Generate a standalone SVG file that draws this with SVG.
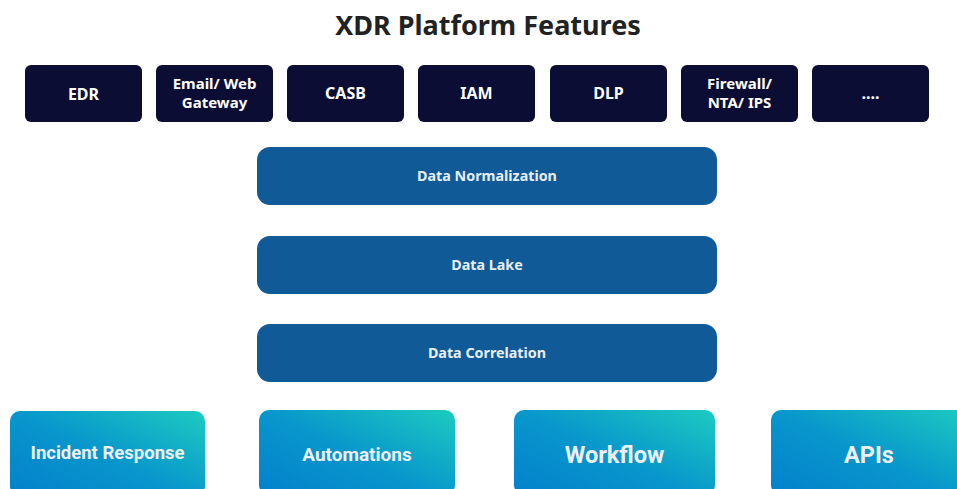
<svg xmlns="http://www.w3.org/2000/svg" width="957" height="489" viewBox="0 0 957 489">
<defs>
<linearGradient id="g" x1="0" y1="0.9" x2="1" y2="0">
<stop offset="0" stop-color="#0483cc"/>
<stop offset="0.45" stop-color="#0896cc"/>
<stop offset="1" stop-color="#1ccbc0"/>
</linearGradient>
<style>
.top rect{fill:#0c0d34}
.top text{fill:#fff;font-family:"Noto Sans",sans-serif;font-weight:700;font-size:16px;text-anchor:middle}
.top .two{font-size:15px}
.mid rect{fill:#105a97}
.mid text{fill:#e9eef5;font-family:"Noto Sans",sans-serif;font-weight:700;font-size:14.3px;text-anchor:middle}
.bot rect{fill:url(#g)}
.bot text{fill:#eef0f5;font-family:Roboto,sans-serif;font-weight:700;text-anchor:middle}
.title{fill:#222;font-family:"Noto Sans",sans-serif;font-weight:700;font-size:27px;text-anchor:middle}
</style>
</defs>
<rect width="957" height="489" fill="#fff"/>
<text class="title" x="488" y="35">XDR Platform Features</text>
<g class="top">
<g id="edr"><rect x="25" y="65" width="117" height="57" rx="6"/><text x="83.5" y="100" font-size="18">EDR</text></g>
<g id="email"><rect x="156" y="65" width="117" height="57" rx="6"/><text class="two" x="214.5" y="89">Email/ Web</text><text class="two" x="214.5" y="108">Gateway</text></g>
<g id="casb"><rect x="287" y="65" width="117" height="57" rx="6"/><text x="345.5" y="99">CASB</text></g>
<g id="iam"><rect x="418" y="65" width="117" height="57" rx="6"/><text x="476.5" y="99">IAM</text></g>
<g id="dlp"><rect x="550" y="65" width="117" height="57" rx="6"/><text x="608.5" y="99">DLP</text></g>
<g id="firewall"><rect x="681" y="65" width="117" height="57" rx="6"/><text class="two" x="739.5" y="89">Firewall/</text><text class="two" x="739.5" y="108">NTA/ IPS</text></g>
<g id="more"><rect x="812" y="65" width="117" height="57" rx="6"/><text x="870.5" y="99">....</text></g>
</g>
<g class="mid">
<g id="norm"><rect x="257" y="147" width="460" height="58" rx="13"/><text x="487" y="181">Data Normalization</text></g>
<g id="lake"><rect x="257" y="236" width="460" height="58" rx="13"/><text x="487" y="270">Data Lake</text></g>
<g id="corr"><rect x="257" y="324" width="460" height="58" rx="13"/><text x="487" y="358">Data Correlation</text></g>
</g>
<g class="bot">
<g id="ir"><rect x="10" y="411" width="195" height="85" rx="10"/><text x="107.5" y="459" font-size="18.5">Incident Response</text></g>
<g id="auto"><rect x="259" y="410" width="196" height="85" rx="10"/><text x="357" y="461" font-size="19">Automations</text></g>
<g id="wf"><rect x="514" y="410" width="201" height="85" rx="10"/><text x="614.5" y="463" font-size="23.5">Workflow</text></g>
<g id="api"><rect x="771" y="410" width="200" height="85" rx="10"/><text x="869" y="463" font-size="23.5">APIs</text></g>
</g>
<g id="connectors"/>
</svg>
